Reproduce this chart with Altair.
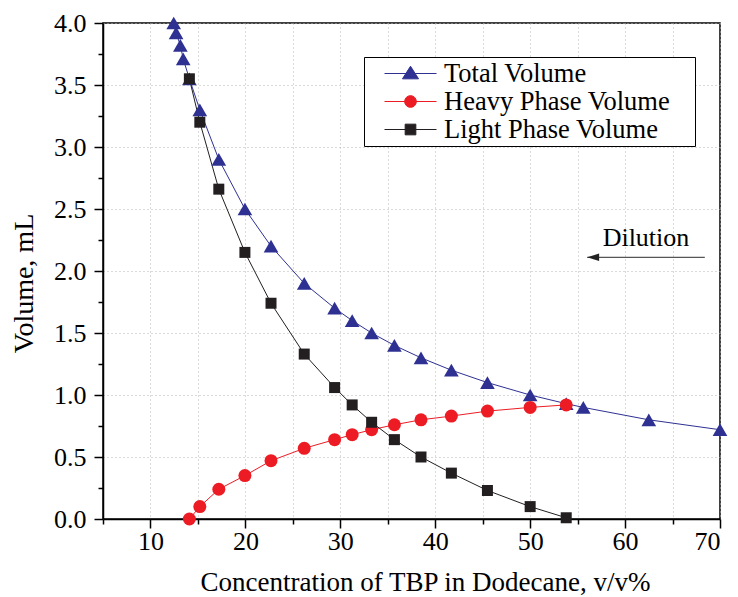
import altair as alt
import pandas as pd

# ---------------- data ----------------
series_names = ["Total Volume", "Heavy Phase Volume", "Light Phase Volume"]
series_colors = ["#2E3192", "#ED1C24", "#231F20"]
series_shapes = ["triangle-up", "circle", "square"]
marker_sizes = [215, 169, 121]

total_x = [12.45, 12.7, 13.15, 13.45, 14.1, 15.2, 17.2, 19.95, 22.7, 26.2, 29.4,
           31.25, 33.3, 35.7, 38.5, 41.7, 45.5, 50.0, 53.8, 55.6, 62.5, 70.0]
total_y = [4.0, 3.92, 3.82, 3.71, 3.55, 3.3, 2.9, 2.5, 2.2, 1.9, 1.7,
           1.6, 1.5, 1.4, 1.3, 1.2, 1.1, 1.0, 0.93, 0.9, 0.8, 0.72]

phase_x = [14.1, 15.2, 17.2, 19.95, 22.7, 26.2, 29.4, 31.25, 33.3, 35.7,
           38.5, 41.7, 45.5, 50.0, 53.8]
heavy_y = [0.0, 0.1, 0.24, 0.35, 0.47, 0.57, 0.64, 0.68, 0.72, 0.76,
           0.80, 0.83, 0.87, 0.90, 0.92]
light_y = [3.55, 3.2, 2.66, 2.15, 1.74, 1.33, 1.06, 0.92, 0.78, 0.64,
           0.50, 0.37, 0.23, 0.10, 0.01]

x_ticks = [5, 10, 15, 20, 25, 30, 35, 40, 45, 50, 55, 60, 65, 70]
y_ticks = [0.0, 0.25, 0.5, 0.75, 1.0, 1.25, 1.5, 1.75, 2.0, 2.25, 2.5,
           2.75, 3.0, 3.25, 3.5, 3.75, 4.0]

annot_text = ["Dilution"]
annot_x = [62.2]
annot_y = [2.2]
arrow_x = [56.0]
arrow_x2 = [68.4]
arrow_y = [2.11]

FONT = "Liberation Serif"

# legend symbols: a short line with the marker in the middle (custom paths)
legend_paths = [
    "M-1,0H3M1,-0.56L1.62,0.41L0.38,0.41Z",
    "M-1,0H3M0.55,0A0.45,0.45 0 1,0 1.45,0A0.45,0.45 0 1,0 0.55,0Z",
    "M-1,0H3M0.59,-0.41H1.41V0.41H0.59Z",
]
arrow_head = "M0,0L1.6,-0.5L1.6,0.5Z"

frames = [
    pd.DataFrame({"x": total_x, "y": total_y, "series": series_names[0]}),
    pd.DataFrame({"x": phase_x, "y": heavy_y, "series": series_names[1]}),
    pd.DataFrame({"x": phase_x, "y": light_y, "series": series_names[2]}),
]
all_df = pd.concat(frames, ignore_index=True)

x_axis = alt.Axis(
    values=x_ticks, format="d",
    labelExpr="datum.value % 10 == 0 ? datum.label : ''",
    tickSize={"condition": {"test": "datum.value % 10 == 0", "value": 9}, "value": 5},
    grid=True, gridDash=[1, 3], gridColor="#b5b5b5", gridWidth=1,
    labelFontSize=26, labelColor="black", labelPadding=0,
    domainColor="black", domainWidth=1.5, tickColor="black", tickWidth=1.5,
    titleFontSize=27, titleFontWeight="normal", titleColor="black", titlePadding=15,
    titleX=322,
    labelFont=FONT, titleFont=FONT,
)
y_axis = alt.Axis(
    values=y_ticks, format=".1f",
    labelExpr="datum.value % 0.5 == 0 ? datum.label : ''",
    tickSize={"condition": {"test": "datum.value % 0.5 == 0", "value": 9}, "value": 5},
    grid=True, gridDash=[1, 3], gridColor="#b5b5b5", gridWidth=1,
    gridOpacity={"condition": {"test": "datum.value % 0.5 == 0", "value": 1}, "value": 0},
    labelFontSize=26, labelColor="black", labelPadding=8,
    domainColor="black", domainWidth=1.5, tickColor="black", tickWidth=1.5,
    titleFontSize=28, titleFontWeight="normal", titleColor="black", titlePadding=15,
    titleY=260,
    labelFont=FONT, titleFont=FONT,
)

x_enc = alt.X("x:Q", scale=alt.Scale(domain=[5, 70], nice=False, zero=False),
              axis=x_axis, title="Concentration of TBP in Dodecane, v/v%")
y_enc = alt.Y("y:Q", scale=alt.Scale(domain=[0, 4], nice=False),
              axis=y_axis, title="Volume, mL")

layers = []
for df, c in zip(frames, series_colors):
    layers.append(alt.Chart(df).mark_line(color=c, strokeWidth=1).encode(x=x_enc, y=y_enc))
for df, c, sh, sz in zip(frames, series_colors, series_shapes, marker_sizes):
    layers.append(
        alt.Chart(df).mark_point(shape=sh, filled=True, size=sz, color=c,
                                 opacity=1, strokeWidth=0).encode(x=x_enc, y=y_enc)
    )

legend = alt.Legend(
    title="\u00a0", titleOrient="right", titlePadding=22, titleFontSize=6,
    orient="none", legendX=261, legendY=34,
    strokeColor="black", fillColor="white", padding=3,
    labelFont=FONT, labelFontSize=26.5, labelColor="black",
    symbolSize=676, symbolStrokeWidth=1, labelOffset=33, symbolOffset=17,
    rowPadding=1, labelLimit=420,
)
legend_layer = (
    alt.Chart(all_df).transform_filter("false")
    .mark_point(filled=True, opacity=1, strokeWidth=1)
    .encode(
        x=x_enc, y=y_enc,
        color=alt.Color("series:N", scale=alt.Scale(domain=series_names, range=series_colors),
                        legend=legend),
        stroke=alt.Stroke("series:N", scale=alt.Scale(domain=series_names, range=series_colors),
                          legend=legend),
        shape=alt.Shape("series:N", scale=alt.Scale(domain=series_names, range=legend_paths),
                        legend=legend),
    )
)
layers.append(legend_layer)

annot_df = pd.DataFrame({"x": annot_x, "y": annot_y, "text": annot_text})
arrow_df = pd.DataFrame({"x": arrow_x, "x2": arrow_x2, "y": arrow_y})

text_layer = alt.Chart(annot_df).mark_text(
    font=FONT, fontSize=26, color="black", align="center", baseline="alphabetic"
).encode(x=x_enc, y=y_enc, text="text:N")
arrow_line = alt.Chart(arrow_df).mark_rule(color="#555555", strokeWidth=1.3).encode(
    x=x_enc, x2="x2:Q", y=y_enc)
arrow_tip = alt.Chart(arrow_df).mark_point(
    shape=arrow_head, filled=True, size=225, color="#222222", opacity=1, strokeWidth=0
).encode(x=x_enc, y=y_enc)
layers += [arrow_line, arrow_tip, text_layer]

chart = alt.layer(*layers).properties(
    width=617, height=496,
    padding={"left": 95, "top": 15, "right": 10, "bottom": 78},
    autosize=alt.AutoSizeParams(type="none"),
).configure(font=FONT).configure_axis(
    labelFont=FONT, titleFont=FONT
).configure_legend(labelFont=FONT).configure_view(stroke="black", strokeWidth=1.5)

chart.save("out.html", embed_options={"renderer": "svg", "actions": False})
